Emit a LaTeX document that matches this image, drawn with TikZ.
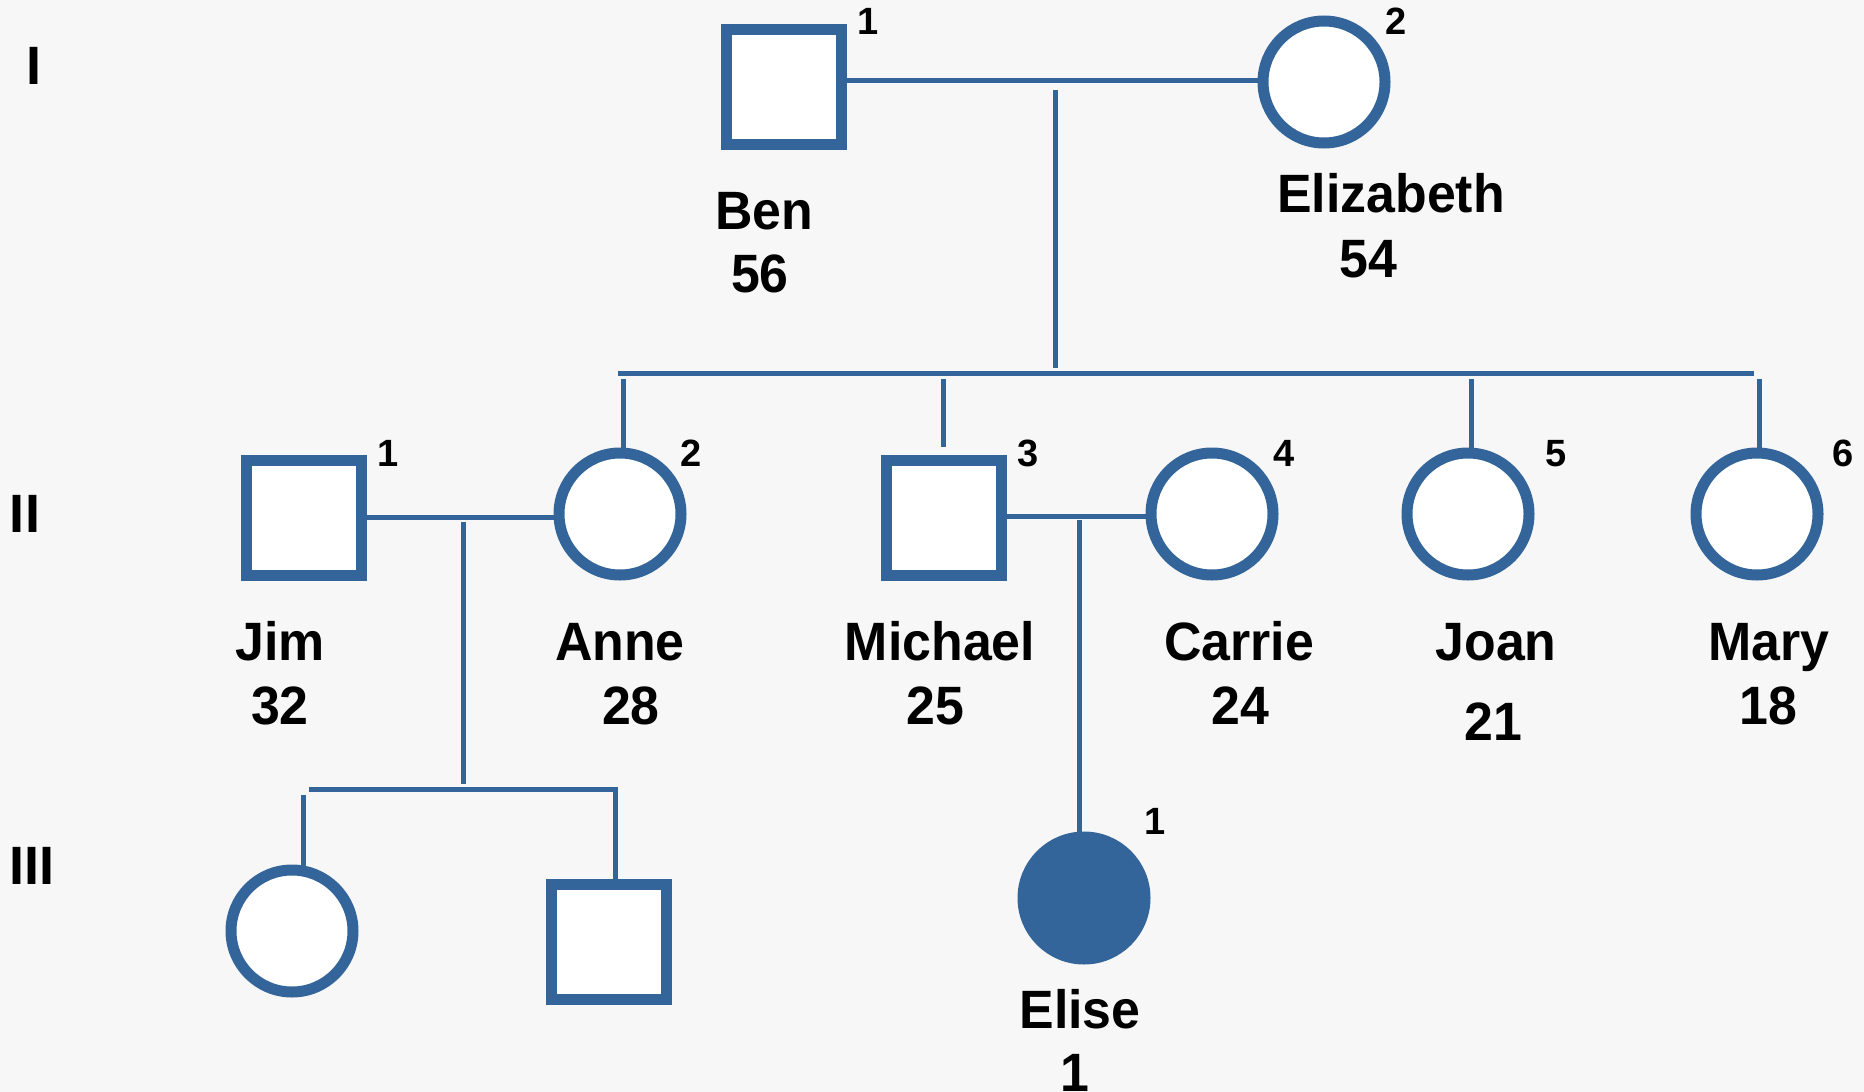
\documentclass[tikz,border=0pt]{standalone}
\usepackage{fontspec}
\setmainfont{Liberation Sans}
\definecolor{ped}{RGB}{52,101,154}
\definecolor{bg}{RGB}{247,247,247}
\newcommand{\nm}[1]{\scalebox{0.96}[1]{#1}}
\begin{document}
\begin{tikzpicture}[x=0.5pt,y=-0.5pt,
  male/.style={draw=ped, line width=5.5pt, fill=white, rectangle, minimum size=57.5pt, inner sep=0pt},
  female/.style={draw=ped, line width=5.5pt, fill=white, circle, minimum size=61pt, inner sep=0pt},
  affected/.style={fill=ped},
  link/.style={draw=ped, line width=2.5pt},
  lbl/.style={anchor=base, inner sep=0pt, font=\fontsize{27}{30}\selectfont\bfseries},
  idx/.style={anchor=base, inner sep=0pt, font=\fontsize{19}{22}\selectfont\bfseries},
  genlbl/.style={anchor=base, inner sep=0pt, font=\fontsize{27}{30}\selectfont\bfseries}]
\fill[bg] (0,0) rectangle (1864,1092);
\useasboundingbox (0,0) rectangle (1864,1092);

% generation labels
\node[genlbl] (gI) at (34,84) {I};
\node[genlbl] (gII) at (25,532) {II};
\node[genlbl] (gIII) at (32,884) {III};

% individuals
\node[male] (ben) at (784,87) {};
\node[female] (eliz) at (1324,82) {};
\node[male] (jim) at (304,518) {};
\node[female] (anne) at (620,514) {};
\node[male] (mich) at (944,518) {};
\node[female] (carr) at (1212,514) {};
\node[female] (joan) at (1468,514) {};
\node[female] (mary) at (1757,514) {};
\node[female] (girl) at (292,931) {};
\node[male] (boy) at (609,942) {};
\node[female, affected] (elise) at (1084,898) {};

% numbers
\node[idx] (nben) at (868,34) {1};
\node[idx] (neliz) at (1396,34) {2};
\node[idx] (njim) at (388,466) {1};
\node[idx] (nanne) at (691,466) {2};
\node[idx] (nmich) at (1028,466) {3};
\node[idx] (ncarr) at (1284,466) {4};
\node[idx] (njoan) at (1556,466) {5};
\node[idx] (nmary) at (1843,466) {6};
\node[idx] (nelise) at (1155,834) {1};

% names and ages
\node[lbl] (lben) at (764,229) {\nm{Ben}};
\node[lbl] (aben) at (760,292) {\nm{56}};
\node[lbl] (leliz) at (1391,212) {\nm{Elizabeth}};
\node[lbl] (aeliz) at (1368,277) {\nm{54}};
\node[lbl] (ljim) at (280,660) {\nm{Jim}};
\node[lbl] (ajim) at (280,724) {\nm{32}};
\node[lbl] (lanne) at (620,660) {\nm{Anne}};
\node[lbl] (aanne) at (631,724) {\nm{28}};
\node[lbl] (lmich) at (940,660) {\nm{Michael}};
\node[lbl] (amich) at (935,724) {\nm{25}};
\node[lbl] (lcarr) at (1239,660) {\nm{Carrie}};
\node[lbl] (acarr) at (1240,724) {\nm{24}};
\node[lbl] (ljoan) at (1496,660) {\nm{Joan}};
\node[lbl] (ajoan) at (1493,740) {\nm{21}};
\node[lbl] (lmary) at (1769,660) {\nm{Mary}};
\node[lbl] (amary) at (1768,724) {\nm{18}};
\node[lbl] (lelise) at (1080,1028) {\nm{Elise}};
\node[lbl] (aelise) at (1075,1091) {\nm{1}};

% junction coordinates
\coordinate (mI) at (1055,80);
\coordinate (dItop) at (1055,90);
\coordinate (dIbot) at (1055,368);
\coordinate (sibL) at (618,373);
\coordinate (sibR) at (1754,373);
\coordinate (anneTop) at (623,379);
\coordinate (anneEnd) at (623,448);
\coordinate (michTop) at (943,379);
\coordinate (michEnd) at (943,447);
\coordinate (joanTop) at (1471,379);
\coordinate (joanEnd) at (1471,448);
\coordinate (maryTop) at (1759,379);
\coordinate (maryEnd) at (1759,448);
\coordinate (mII) at (463,517);
\coordinate (dIItop) at (463,522);
\coordinate (dIIbot) at (463,784);
\coordinate (sibIIL) at (309,789);
\coordinate (sibIIR) at (618,789);
\coordinate (girlTop) at (303,795);
\coordinate (girlEnd) at (303,866);
\coordinate (boyTop) at (615,789);
\coordinate (mIII) at (1079,516);
\coordinate (dIIItop) at (1079,520);

% generation I
\draw[link] (ben.east |- mI) -- (eliz.west |- mI);
\draw[link] (dItop) -- (dIbot);
\draw[link] (sibL) -- (sibR);
\draw[link] (anneTop) -- (anneEnd);
\draw[link] (michTop) -- (michEnd);
\draw[link] (joanTop) -- (joanEnd);
\draw[link] (maryTop) -- (maryEnd);

% generation II
\draw[link] (jim.east |- mII) -- (anne.west |- mII);
\draw[link] (dIItop) -- (dIIbot);
\draw[link] (sibIIL) -- (sibIIR);
\draw[link] (girlTop) -- (girlEnd);
\draw[link] (boyTop) -- (boy.north -| boyTop);
\draw[link] (mich.east |- mIII) -- (carr.west |- mIII);
\draw[link] (dIIItop) -- (elise.north -| dIIItop);
\end{tikzpicture}
\end{document}
